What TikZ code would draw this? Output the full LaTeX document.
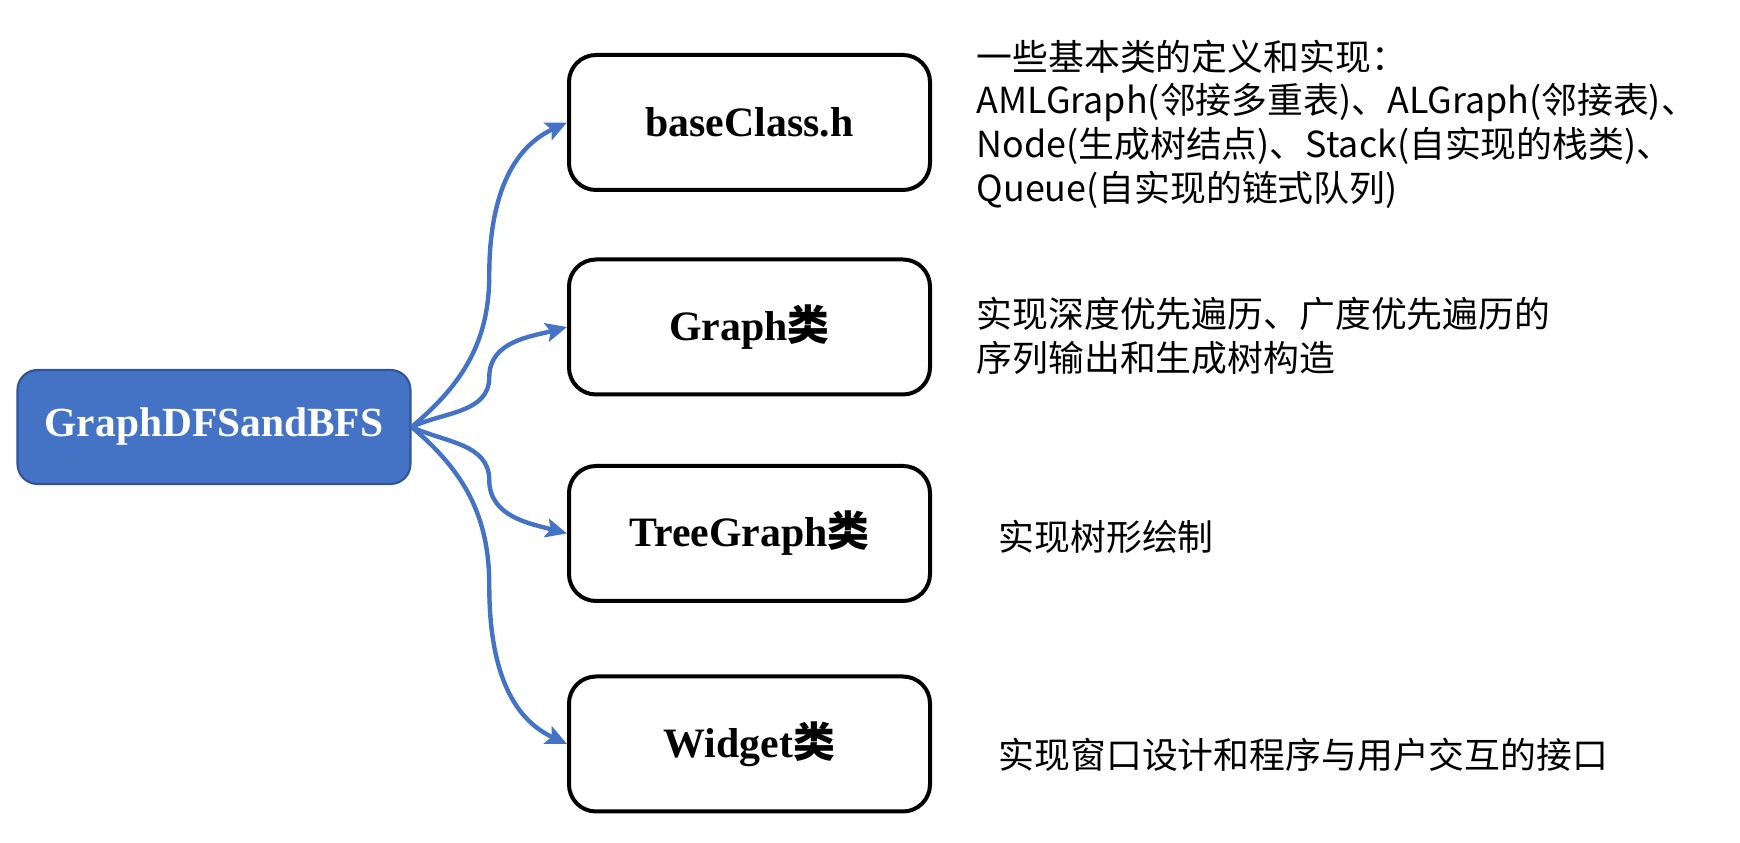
\documentclass[tikz,border=0pt]{standalone}
\usepackage{fontspec}
\setmainfont{Liberation Serif}
\newfontfamily\cjk{Noto Sans CJK SC}
\usetikzlibrary{arrows.meta, calc}
\definecolor{rootblue}{HTML}{4472C4}
\definecolor{rootedge}{HTML}{2F5597}

\begin{document}
\begin{tikzpicture}[
      rootbox/.style={draw=rootedge, fill=rootblue, text=white, rounded corners=0.2cm,
                      minimum width=3.93cm, minimum height=1.14cm, line width=0.6pt,
                      font=\fontsize{11.8}{14}\selectfont\bfseries},
      classbox/.style={draw, rounded corners=0.27cm, minimum width=3.61cm,
                       minimum height=1.35cm, line width=0.04cm,
                       font=\fontsize{11.9}{14}\selectfont\bfseries},
      note/.style={anchor=west, align=left, inner sep=0pt,
                   font=\cjk\fontsize{10.2}{12.4}\selectfont},
      link/.style={-{Stealth[length=6pt, width=5.4pt, inset=1.2pt]}, rootblue, line width=1.25pt},
    ]
    \useasboundingbox (0, 0) rectangle (17.4, 8.43);

    \node[rootbox]  (root)   at (2.14, 4.16)  {GraphDFSandBFS};

    \node[classbox] (base)   at (7.495, 7.205) {baseClass.h};
    \node[classbox] (graph)  at (7.495, 5.16)  {Graph{\cjk 类}};
    \node[classbox] (tree)   at (7.495, 3.095) {TreeGraph{\cjk 类}};
    \node[classbox] (widget) at (7.495, 0.99)  {Widget{\cjk 类}};

    \node[note] (basenote)   at (9.76, 7.19) {一些基本类的定义和实现：\\AMLGraph(邻接多重表)、ALGraph(邻接表)、\\Node(生成树结点)、Stack(自实现的栈类)、\\Queue(自实现的链式队列)};
    \node[note] (graphnote)  at (9.76, 5.07)  {实现深度优先遍历、广度优先遍历的\\序列输出和生成树构造};
    \node[note] (treenote)   at (9.98, 3.06)  {实现树形绘制};
    \node[note] (widgetnote) at (9.98, 0.88)  {实现窗口设计和程序与用户交互的接口};

    \draw[link] (root.east) to[out=40, in=-90] ($(root.east)!0.5!(base.west)$)
      to[out=90, in=-155] (base.west);
    \draw[link] (root.east) to[out=25, in=-90] ($(root.east)!0.5!(graph.west)$)
      to[out=90, in=-165] (graph.west);
    \draw[link] (root.east) to[out=-25, in=90] ($(root.east)!0.5!(tree.west)$)
      to[out=-90, in=165] (tree.west);
    \draw[link] (root.east) to[out=-40, in=90] ($(root.east)!0.5!(widget.west)$)
      to[out=-90, in=155] (widget.west);
  \end{tikzpicture}
\end{document}
